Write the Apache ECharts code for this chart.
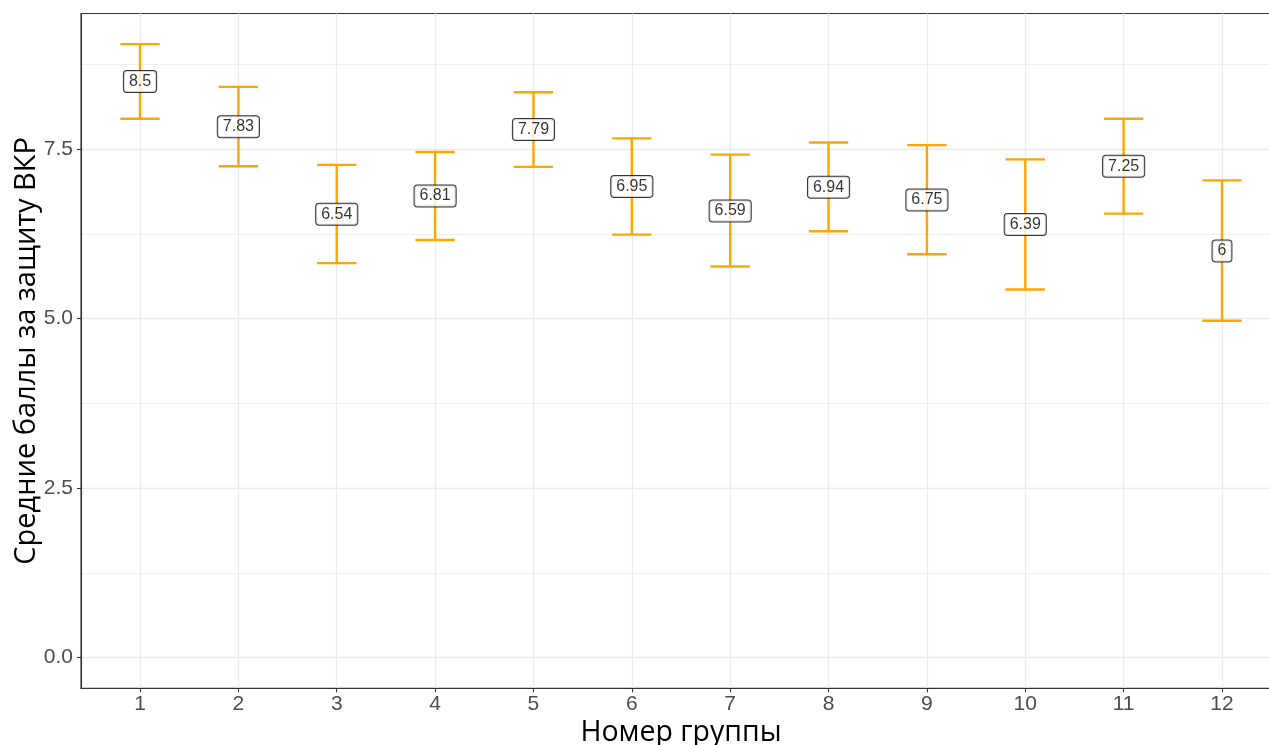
<!DOCTYPE html>
<html>
<head>
<meta charset="utf-8">
<script src="https://cdn.jsdelivr.net/npm/echarts@6/dist/echarts.min.js"></script>
<style>
  html, body { margin: 0; padding: 0; background: #ffffff; }
  #chart { width: 1269px; height: 745px; }
</style>
</head>
<body>
<div id="chart"></div>
<script>
// Group numbers, mean scores and confidence bounds
var groups = [1, 2, 3, 4, 5, 6, 7, 8, 9, 10, 11, 12];
var means  = [8.5, 7.83, 6.54, 6.81, 7.79, 6.95, 6.59, 6.94, 6.75, 6.39, 7.25, 6];
var lower  = [7.95, 7.25, 5.82, 6.16, 7.24, 6.24, 5.77, 6.29, 5.95, 5.43, 6.55, 4.97];
var upper  = [9.05, 8.42, 7.27, 7.46, 8.34, 7.66, 7.42, 7.60, 7.56, 7.35, 7.95, 7.04];

var yTicks = [0, 2.5, 5, 7.5];
var yMinorTicks = [1.25, 3.75, 6.25, 8.75];

var gridColor = '#EBEBEB';
var tickTextColor = '#4D4D4D';
var barColor = '#FFA500';

var barData = groups.map(function (g, i) { return [g, lower[i], upper[i]]; });
var labelData = groups.map(function (g, i) { return [g, means[i]]; });

var chart = echarts.init(document.getElementById('chart'), null, { renderer: 'canvas' });

chart.setOption({
  backgroundColor: '#ffffff',
  animation: false,
  grid: {
    left: 81, top: 13.5, width: 1200, height: 674.8,
    containLabel: false,
    outerBoundsMode: 'none',
    show: true, borderColor: '#333333', borderWidth: 1.1, backgroundColor: 'transparent'
  },
  xAxis: {
    type: 'value',
    min: 0.4, max: 12.6,
    name: 'Номер группы',
    nameLocation: 'middle',
    nameGap: 30,
    nameMoveOverlap: false,
    nameTextStyle: { fontFamily: 'Open Sans', fontSize: 28.5, color: '#000000' },
    axisLine: { show: true, onZero: false, lineStyle: { color: '#333333', width: 1.1 } },
    axisTick: { show: true, length: 4, customValues: groups, lineStyle: { color: '#333333', width: 1.1 } },
    axisLabel: {
      customValues: groups, margin: 5,
      fontFamily: 'Liberation Sans', fontSize: 21, color: tickTextColor
    },
    splitLine: { show: true, lineStyle: { color: gridColor, width: 1.3 } }
  },
  yAxis: [{
    type: 'value',
    min: -0.4525, max: 9.5025,
    name: 'Средние баллы за защиту ВКР',
    nameLocation: 'middle',
    nameGap: 40,
    nameMoveOverlap: false,
    nameTextStyle: { fontFamily: 'Open Sans', fontSize: 29, color: '#000000' },
    axisLine: { show: true, onZero: false, lineStyle: { color: '#333333', width: 1.1 } },
    axisTick: { show: true, length: 4, customValues: yTicks, lineStyle: { color: '#333333', width: 1.1 } },
    axisLabel: {
      customValues: yTicks, margin: 8,
      fontFamily: 'Liberation Sans', fontSize: 21, color: tickTextColor,
      formatter: function (v) { return Number(v).toFixed(1); }
    },
    splitLine: { show: true, lineStyle: { color: gridColor, width: 1.3 } }
  }, {
    // minor horizontal grid lines
    type: 'value',
    min: -0.4525, max: 9.5025,
    position: 'left',
    axisLine: { show: false, onZero: false },
    axisTick: { show: false, customValues: yMinorTicks },
    axisLabel: { show: false, customValues: yMinorTicks },
    splitLine: { show: true, lineStyle: { color: gridColor, width: 0.8 } }
  }],
  series: [{
    type: 'custom',
    z: 3,
    data: barData,
    renderItem: function (params, api) {
      var x = api.value(0);
      var lo = api.coord([x, api.value(1)]);
      var hi = api.coord([x, api.value(2)]);
      var half = api.size([0.2, 0])[0];
      var style = { stroke: barColor, lineWidth: 2.4, fill: null };
      return {
        type: 'group',
        children: [
          { type: 'line', shape: { x1: lo[0], y1: lo[1], x2: hi[0], y2: hi[1] }, style: style },
          { type: 'line', shape: { x1: hi[0] - half, y1: hi[1], x2: hi[0] + half, y2: hi[1] }, style: style },
          { type: 'line', shape: { x1: lo[0] - half, y1: lo[1], x2: lo[0] + half, y2: lo[1] }, style: style }
        ]
      };
    }
  }, {
    type: 'scatter',
    z: 5,
    data: labelData,
    symbolSize: 1,
    itemStyle: { color: 'rgba(0,0,0,0)' },
    label: {
      show: true,
      position: 'inside',
      formatter: function (p) { return String(p.value[1]); },
      fontFamily: 'Liberation Sans',
      fontSize: 16,
      lineHeight: 16,
      color: '#000000',
      backgroundColor: '#ffffff',
      borderColor: '#000000',
      borderWidth: 1,
      borderRadius: 3,
      padding: [3, 5, 2, 5]
    }
  }]
});
</script>
</body>
</html>
